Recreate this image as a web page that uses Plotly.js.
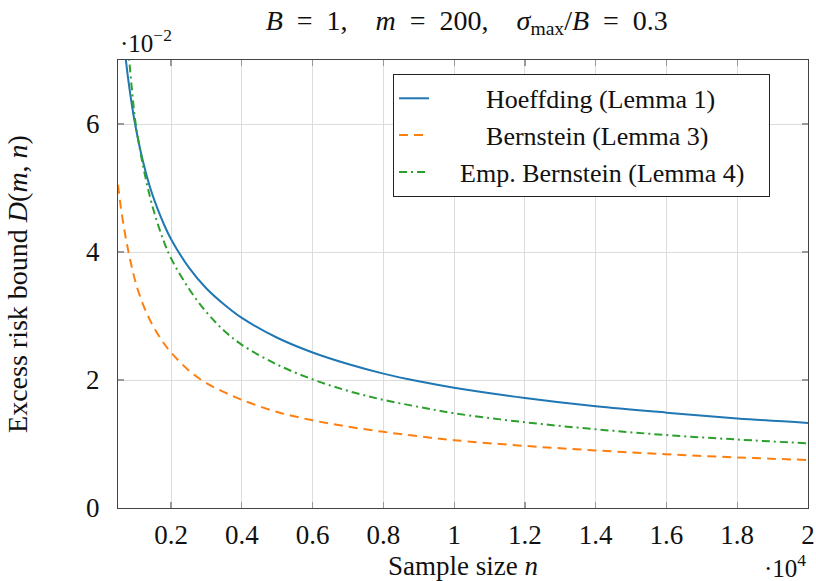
<!DOCTYPE html>
<html>
<head>
<meta charset="utf-8">
<script src="https://cdn.plot.ly/plotly-3.0.1.min.js"></script>
<style>html,body{margin:0;padding:0;background:#fff;}#chart{width:816px;height:581px;}</style>
</head>
<body>
<div id="chart"></div>
<script>
// Sample size n
const sampleSize = [500, 600, 700, 800, 900, 1000, 1200, 1400, 1600, 1800, 2000, 2500, 3000, 3500, 4000, 5000, 6000, 7000, 8000, 9000, 10000, 12000, 14000, 16000, 18000, 20000];
// Excess risk bound D(m,n)
const hoeffding = [0.0841, 0.0767, 0.0711, 0.0665, 0.0627, 0.0595, 0.0543, 0.0502, 0.0470, 0.0443, 0.0420, 0.0376, 0.0343, 0.0318, 0.0297, 0.0266, 0.0243, 0.0225, 0.0210, 0.0198, 0.0188, 0.0172, 0.0159, 0.0149, 0.0140, 0.0133];
const bernstein = [0.0505, 0.0462, 0.0428, 0.0399, 0.0374, 0.0352, 0.0319, 0.0294, 0.0274, 0.0257, 0.0243, 0.0215, 0.0195, 0.0181, 0.0169, 0.0150, 0.0137, 0.0127, 0.0119, 0.0112, 0.0106, 0.0097, 0.0090, 0.0084, 0.0079, 0.0075];
const empBernstein = [0.1030, 0.0890, 0.0790, 0.0712, 0.0650, 0.0600, 0.0537, 0.0487, 0.0448, 0.0416, 0.0390, 0.0343, 0.0306, 0.0277, 0.0255, 0.0224, 0.0201, 0.0183, 0.0169, 0.0158, 0.0148, 0.0134, 0.0123, 0.0114, 0.0107, 0.0101];

const xTickVals = [2000, 4000, 6000, 8000, 10000, 12000, 14000, 16000, 18000, 20000];
const xTickText = ['0.2', '0.4', '0.6', '0.8', '1', '1.2', '1.4', '1.6', '1.8', '2'];
const yTickVals = [0, 0.02, 0.04, 0.06];
const yTickText = ['0', '2', '4', '6'];

const seriesNames = ['Hoeffding (Lemma 1)', 'Bernstein (Lemma 3)', 'Emp. Bernstein (Lemma 4)'];
const NB = '\u00a0';
const TRAIL = NB + NB + '<span style="color:rgba(0,0,0,0)">.</span>';

const FONT = 'Liberation Serif, serif';

const traces = [
  {x: sampleSize, y: hoeffding, name: NB.repeat(8) + seriesNames[0], mode: 'lines',
   line: {color: '#1f77b4', width: 2, shape: 'spline'}},
  {x: sampleSize, y: bernstein, name: NB.repeat(8) + seriesNames[1], mode: 'lines',
   line: {color: '#ff7f0e', width: 2, dash: '9px,6px', shape: 'spline'}},
  {x: sampleSize, y: empBernstein, name: NB.repeat(4) + seriesNames[2] + TRAIL, mode: 'lines',
   line: {color: '#2ca02c', width: 2, dash: '8px,4px,2px,4px', shape: 'spline'}}
];

const axisCommon = {
  showline: true, linecolor: '#444', linewidth: 1.2, mirror: 'allticks',
  ticks: 'inside', ticklen: 6, tickcolor: '#999', tickwidth: 1.2,
  showgrid: true, gridcolor: '#dcdcdc', gridwidth: 1, zeroline: false,
  tickfont: {family: FONT, size: 27, color: '#111'}
};

const EQ = NB + NB + '=' + NB + NB;
const titleText = '<i>B</i>' + EQ + '1,' + NB.repeat(4) + '<i>m</i>' + EQ + '200,' + NB.repeat(4) +
  '<i>σ</i><sub>max</sub>/<i>B</i>' + EQ + '0.3';

const layout = {
  width: 816, height: 581,
  margin: {l: 118, r: 8, t: 60, b: 73},
  paper_bgcolor: '#fff', plot_bgcolor: '#fff',
  font: {family: FONT, color: '#111'},
  title: {text: titleText,
          font: {family: FONT, size: 28, color: '#111'}, x: 0.572, xanchor: 'center', y: 0.966, yanchor: 'middle'},
  xaxis: Object.assign({}, axisCommon, {
    range: [500, 20000], tickmode: 'array', tickvals: xTickVals, ticktext: xTickText,
    ticklabelstandoff: 2,
    title: {text: 'Sample size <i>n</i>', font: {family: FONT, size: 27, color: '#111'}, standoff: 16}
  }),
  yaxis: Object.assign({}, axisCommon, {
    range: [0, 0.07], tickmode: 'array', tickvals: yTickVals, ticktext: yTickText,
    ticklabelstandoff: 12,
    title: {text: 'Excess risk bound <i>D</i>(<i>m</i>, <i>n</i>)', font: {family: FONT, size: 28, color: '#111'}, standoff: 50}
  }),
  legend: {
    x: 0.3986, y: 0.969, xanchor: 'left', yanchor: 'top',
    bgcolor: '#fff', bordercolor: '#222', borderwidth: 1,
    font: {family: FONT, size: 26, color: '#111'},
    tracegroupgap: 0
  },
  showlegend: true,
  annotations: [
    {text: '·10<sup>−2</sup>', xref: 'paper', yref: 'paper', x: 0, y: 1, xanchor: 'left', yanchor: 'bottom',
     yshift: 1, showarrow: false, font: {family: FONT, size: 25, color: '#111'}},
    {text: '·10<sup>4</sup>', xref: 'paper', yref: 'paper', x: 1, y: 0, xanchor: 'right', yanchor: 'top',
     yshift: -40, showarrow: false, font: {family: FONT, size: 25, color: '#111'}}
  ]
};

Plotly.newPlot('chart', traces, layout, {displayModeBar: false, staticPlot: true});
</script>
</body>
</html>
